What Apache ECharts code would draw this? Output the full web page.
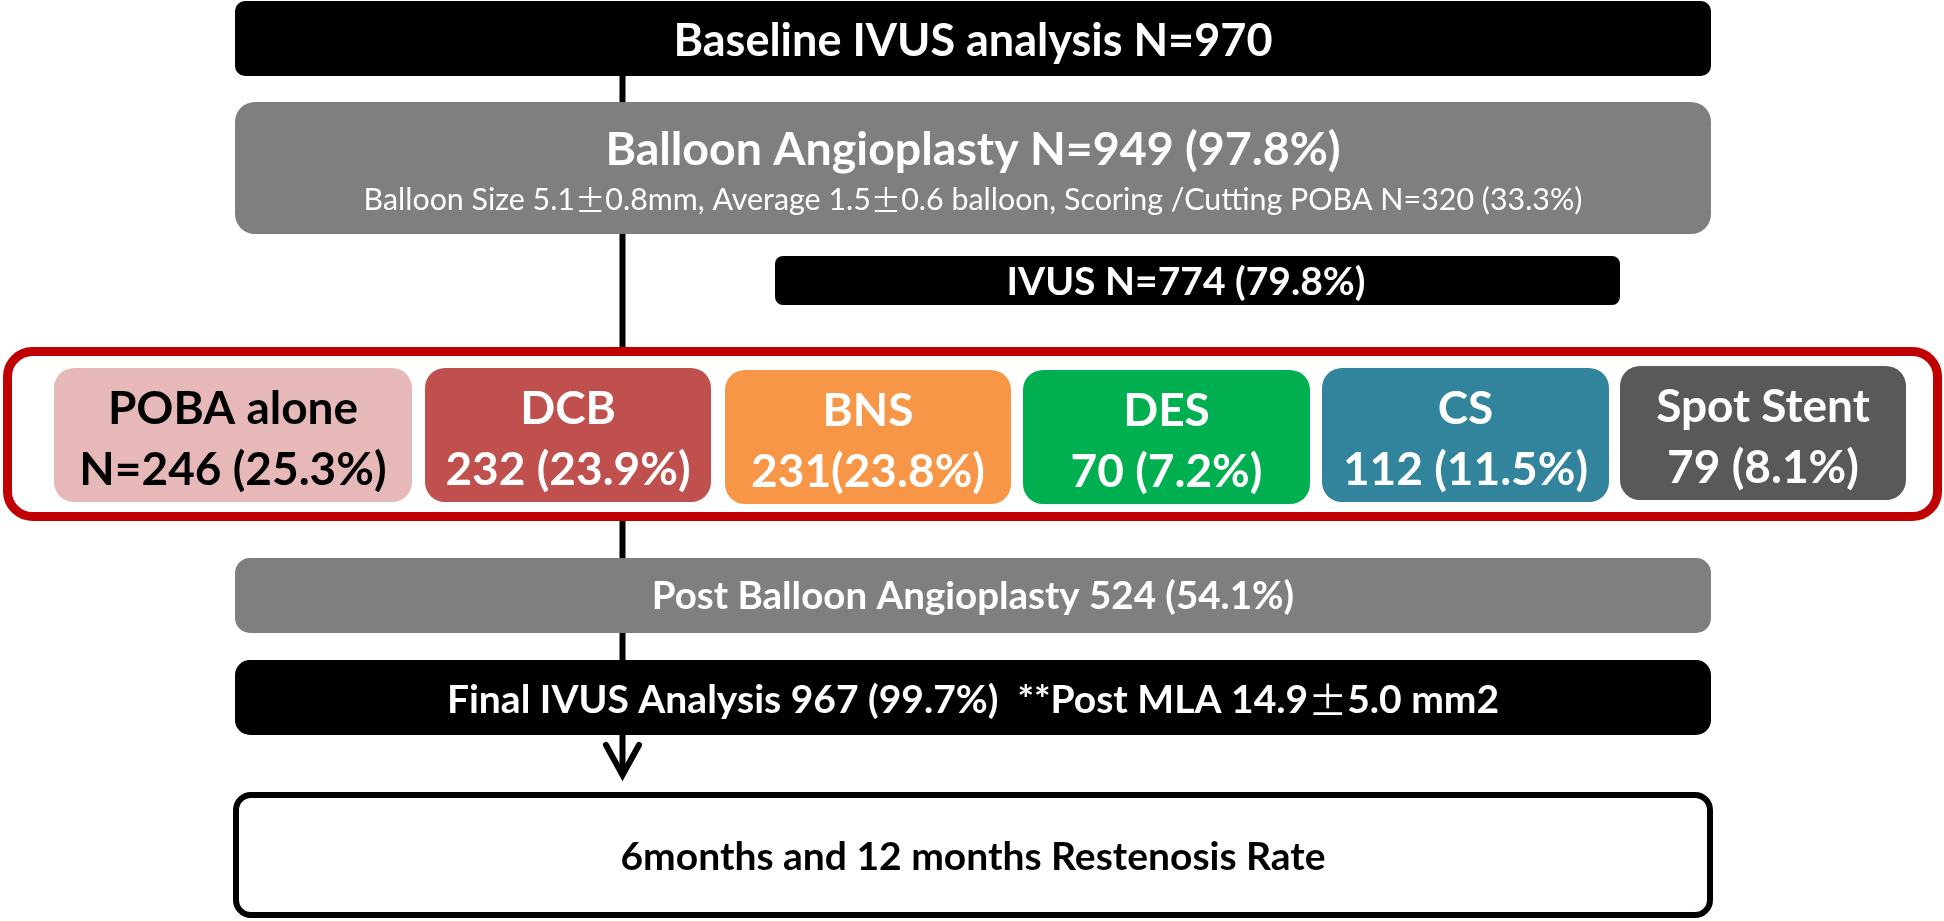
<!DOCTYPE html>
<html><head><meta charset="utf-8">
<script src="https://cdn.jsdelivr.net/npm/echarts@6/dist/echarts.min.js"></script>
<style>html,body{margin:0;padding:0;background:#fff}#c{width:1944px;height:921px}</style>
</head><body><div id="c"></div>
<script>
// ---------- DATA ----------
const stageNames = ['Baseline IVUS analysis', 'Balloon Angioplasty', 'IVUS', 'Post Balloon Angioplasty', 'Final IVUS Analysis', '6months and 12 months Restenosis Rate'];
const stageN = [970, 949, 774, 524, 967, null];
const stagePct = [null, 97.8, 79.8, 54.1, 99.7, null];
const stageNPrefix = ['N=', 'N=', 'N=', '', '', ''];
const stageNotes = ['', 'Balloon Size 5.1\u00b10.8mm, Average 1.5\u00b10.6 balloon, Scoring /Cutting POBA N=320 (33.3%)', '', '', '**Post MLA 14.9\u00b15.0 mm2', ''];

const treatmentNames = ['POBA alone', 'DCB', 'BNS', 'DES', 'CS', 'Spot Stent'];
const treatmentN = [246, 232, 231, 70, 112, 79];
const treatmentPct = [25.3, 23.9, 23.8, 7.2, 11.5, 8.1];
const treatmentNPrefix = ['N=', '', '', '', '', ''];
const treatmentSep = [' ', ' ', '', ' ', ' ', ' '];

// ---------- LAYOUT / STYLE (reference pixel units) ----------
const FONT = 'Lato, "Open Sans", sans-serif';
const PM_FONT = '"Noto Sans CJK JP", "Noto Sans CJK SC", sans-serif';
const stageLayout = [
  {x0:235, x1:1711, y0:1,   y1:76,  r:10, fill:'#000000', color:'#ffffff', size:45, ty:[41]},
  {x0:235, x1:1711, y0:102, y1:234, r:20, fill:'#7f7f7f', color:'#ffffff', size:46.5, ty:[150, 200], noteSize:30.4, noteWeight:'normal'},
  {x0:775, x1:1620, y0:256, y1:305, r:8,  fill:'#000000', color:'#ffffff', size:39, ty:[282], tx:1186},
  {x0:235, x1:1711, y0:558, y1:633, r:15, fill:'#7f7f7f', color:'#ffffff', size:38.5, ty:[597]},
  {x0:235, x1:1711, y0:660, y1:735, r:15, fill:'#000000', color:'#ffffff', size:39, ty:[700], inline:true},
  {x0:236, x1:1710, y0:795, y1:915, r:15, fill:'#ffffff', stroke:'#000000', lw:6, color:'#000000', size:39, ty:[857]}
];
const treatmentLayout = [
  {x0:54,   x1:412,  y0:368, y1:502, fill:'#e6b9b8', color:'#000000'},
  {x0:425,  x1:711,  y0:368, y1:502, fill:'#c0504d', color:'#ffffff'},
  {x0:725,  x1:1011, y0:370, y1:504, fill:'#f79646', color:'#ffffff'},
  {x0:1023, x1:1310, y0:370, y1:504, fill:'#00b050', color:'#ffffff'},
  {x0:1322, x1:1609, y0:368, y1:502, fill:'#31849b', color:'#ffffff'},
  {x0:1620, x1:1906, y0:366, y1:500, fill:'#595959', color:'#ffffff'}
];
const TREAT_R = 20, TREAT_SIZE = 46, TREAT_L1 = 41, TREAT_L2 = 102;
const frameLayout = {x0:7.5, x1:1937.5, y0:351.5, y1:516.5, r:25, stroke:'#c00000', lw:9};
const connector = {x:622.5, y0:76, y1:772, lw:6, head:[[606,745],[622.5,775],[639,745]]};

function stageLabel(i){
  let s = stageNames[i];
  if (stageN[i] != null) s += ' ' + stageNPrefix[i] + stageN[i];
  if (stagePct[i] != null) s += ' (' + stagePct[i].toFixed(1) + '%)';
  return s;
}
function treatmentValueLabel(i){
  return treatmentNPrefix[i] + treatmentN[i] + treatmentSep[i] + '(' + treatmentPct[i].toFixed(1) + '%)';
}
function rectOf(api, L){
  const p0 = api.coord([L.x0, L.y0]), p1 = api.coord([L.x1, L.y1]);
  return {x:p0[0], y:p0[1], width:p1[0]-p0[0], height:p1[1]-p0[1]};
}
function textEl(api, str, x, y, color, size, weight){
  const p = api.coord([x, y]);
  const w = weight || 'bold';
  const hasPm = str.indexOf('\u00b1') >= 0;
  const style = {text: hasPm ? str.split('\u00b1').join('{pm|\u00b1}') : str,
    x:p[0], y:p[1], fill:color, font:w + ' ' + size + 'px ' + FONT, align:'center', verticalAlign:'middle'};
  if (hasPm) style.rich = {pm:{font:'normal ' + size + 'px ' + PM_FONT, fill:color}};
  return {type:'text', style};
}

const chart = echarts.init(document.getElementById('c'), null, {renderer:'canvas'});
chart.setOption({
  animation:false,
  backgroundColor:'#ffffff',
  grid:{left:0, right:0, top:0, bottom:0},
  xAxis:{type:'value', min:0, max:1944, show:false},
  yAxis:{type:'value', min:0, max:921, inverse:true, show:false},
  series:[
    { // connector line with arrow
      type:'custom', z:1, silent:true,
      data:[[0,0]],
      renderItem:(params, api)=>{
        const a = api.coord([connector.x, connector.y0]), b = api.coord([connector.x, connector.y1]);
        return {type:'group', children:[
          {type:'line', shape:{x1:a[0], y1:a[1], x2:b[0], y2:b[1]}, style:{stroke:'#000', lineWidth:connector.lw}},
          {type:'polyline', shape:{points:connector.head.map(p=>api.coord(p))}, style:{stroke:'#000', lineWidth:connector.lw, fill:null, lineJoin:'miter', lineCap:'round'}}
        ]};
      }
    },
    { // red frame around treatment options
      type:'custom', z:2, silent:true,
      data:[[0,0]],
      renderItem:(params, api)=>{
        const r = rectOf(api, frameLayout); r.r = frameLayout.r;
        return {type:'rect', shape:r, style:{fill:'#ffffff', stroke:frameLayout.stroke, lineWidth:frameLayout.lw}};
      }
    },
    { // flow stages
      type:'custom', z:3, silent:true,
      data:stageNames.map((n,i)=>[i,i]),
      renderItem:(params, api)=>{
        const i = params.dataIndex, L = stageLayout[i];
        const r = rectOf(api, L); r.r = L.r;
        const cx = L.tx != null ? L.tx : (L.x0 + L.x1) / 2;
        const children = [{type:'rect', shape:r, style:{fill:L.fill, stroke:L.stroke||null, lineWidth:L.lw||0}}];
        if (L.inline) {
          children.push(textEl(api, stageLabel(i) + '  ' + stageNotes[i], cx, L.ty[0], L.color, L.size));
        } else {
          children.push(textEl(api, stageLabel(i), cx, L.ty[0], L.color, L.size));
          if (stageNotes[i]) children.push(textEl(api, stageNotes[i], cx, L.ty[1], L.color, L.noteSize, L.noteWeight));
        }
        return {type:'group', children};
      }
    },
    { // treatment boxes
      type:'custom', z:4, silent:true,
      data:treatmentNames.map((n,i)=>[i,i]),
      renderItem:(params, api)=>{
        const i = params.dataIndex, L = treatmentLayout[i];
        const r = rectOf(api, L); r.r = TREAT_R;
        const cx = (L.x0 + L.x1) / 2;
        return {type:'group', children:[
          {type:'rect', shape:r, style:{fill:L.fill}},
          textEl(api, treatmentNames[i], cx, L.y0 + TREAT_L1, L.color, TREAT_SIZE),
          textEl(api, treatmentValueLabel(i), cx, L.y0 + TREAT_L2, L.color, TREAT_SIZE)
        ]};
      }
    }
  ]
});
</script></body></html>
